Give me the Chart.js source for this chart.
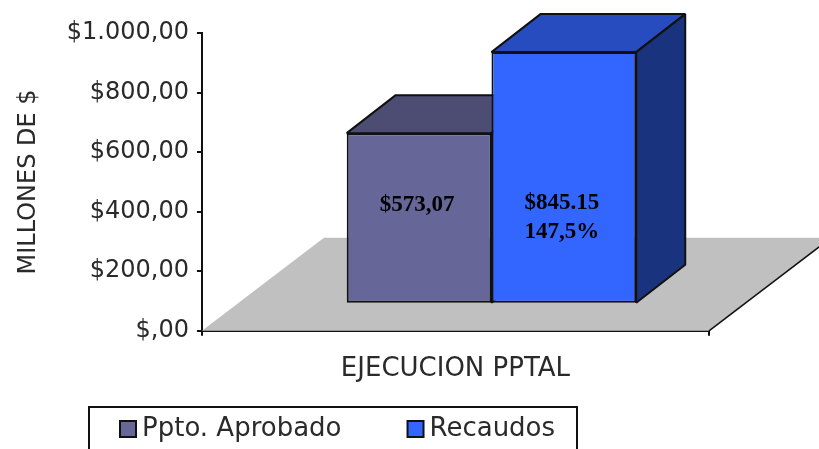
<!DOCTYPE html>
<html>
<head>
<meta charset="utf-8">
<style>
  html, body { margin: 0; padding: 0; background: #fff; overflow: hidden; }
  canvas { display: block; }
</style>
<script src="https://cdn.jsdelivr.net/npm/chart.js@4"></script>
</head>
<body>
<canvas id="myChart" width="819" height="449"></canvas>
<script>
const categories = ["EJECUCION PPTAL"];
const pptoValues = [573.07];
const recaudosValues = [845.15];
const seriesNames = ["Ppto. Aprobado", "Recaudos"];
const tickLabels = ["$,00", "$200,00", "$400,00", "$600,00", "$800,00", "$1.000,00"];
const barNotes = [["$573,07"], ["$845.15", "147,5%"]];

const textColor = "#2a2a2a";
const lineColor = "#111";
const frontColors = ["#666699", "#3366ff"];
const topColors = ["#4d4d73", "#264cbf"];
const sideColors = ["#4d4d73", "#19337f"];

// fake 3D: the bars stand 36,-27 inside a floor that is 122,-93 deep
const shift = { x: 36, y: -27 };
const floorDepth = { x: 122, y: -93 };
const barDepth = { x: 49, y: -38 };
const legendPadding = 73;

function face(ctx, pts, fill) {
  ctx.beginPath();
  pts.forEach((p, i) => (i ? ctx.lineTo(p[0], p[1]) : ctx.moveTo(p[0], p[1])));
  ctx.closePath();
  ctx.fillStyle = fill;
  ctx.fill();
  ctx.lineWidth = 2;
  ctx.strokeStyle = lineColor;
  ctx.lineJoin = "bevel";
  ctx.stroke();
}

const fake3d = {
  id: "fake3d",
  afterLayout(chart) {
    // legend box sits left of center in the original
    const legend = chart.legend;
    legend.left = 127 - legendPadding;
    legend.right = 819;
    legend.top = 416 - legendPadding;
  },
  beforeDatasetsDraw(chart) {
    const { ctx, chartArea: a } = chart;

    ctx.save();
    ctx.beginPath();
    ctx.moveTo(a.left, a.bottom);
    ctx.lineTo(a.left + floorDepth.x, a.bottom + floorDepth.y);
    ctx.lineTo(a.right + floorDepth.x, a.bottom + floorDepth.y);
    ctx.lineTo(a.right, a.bottom);
    ctx.closePath();
    ctx.fillStyle = "#c0c0c0";
    ctx.fill();
    ctx.beginPath();
    ctx.moveTo(a.right, a.bottom);
    ctx.lineTo(a.right + floorDepth.x, a.bottom + floorDepth.y);
    ctx.lineWidth = 1.5;
    ctx.strokeStyle = lineColor;
    ctx.stroke();
    ctx.restore();

    ctx.save();
    ctx.translate(shift.x, shift.y);
    chart.data.datasets.forEach((ds, i) => {
      const bar = chart.getDatasetMeta(i).data[0];
      const l = bar.x - bar.width / 2;
      const r = bar.x + bar.width / 2;
      const dx = barDepth.x;
      const dy = barDepth.y;
      face(ctx, [[l, bar.y], [l + dx, bar.y + dy], [r + dx, bar.y + dy], [r, bar.y]], topColors[i]);
      face(ctx, [[r, bar.y], [r + dx, bar.y + dy], [r + dx, bar.base + dy], [r, bar.base]], sideColors[i]);
    });
    // the native fronts are drawn inside this translate, restored below
  },
  afterDatasetsDraw(chart) {
    const { ctx } = chart;
    ctx.restore();

    ctx.save();
    ctx.font = "bold 23px 'Liberation Serif'";
    ctx.fillStyle = "#000";
    ctx.textAlign = "center";
    ctx.textBaseline = "middle";
    chart.data.datasets.forEach((ds, i) => {
      const bar = chart.getDatasetMeta(i).data[0];
      barNotes[i].forEach((line, n) => {
        ctx.fillText(line, bar.x + shift.x - 2, bar.base + shift.y - (i ? 100 : 98) + n * 29);
      });
    });
    ctx.restore();
  },
  afterDraw(chart) {
    const { ctx } = chart;
    ctx.save();
    ctx.lineWidth = 2;
    ctx.strokeStyle = lineColor;
    ctx.strokeRect(89, 407, 488, 70);
    ctx.restore();
  },
};

const datas = {
  labels: categories,
  datasets: [
    {
      label: seriesNames[0],
      data: pptoValues,
      backgroundColor: frontColors[0],
      borderColor: lineColor,
      borderWidth: 2,
      borderSkipped: false,
    },
    {
      label: seriesNames[1],
      data: recaudosValues,
      backgroundColor: frontColors[1],
      borderColor: lineColor,
      borderWidth: 2,
      borderSkipped: false,
    },
  ],
};

const configs = {
  type: "bar",
  data: datas,
  plugins: [fake3d],
  options: {
    responsive: false,
    animation: false,
    layout: { padding: { top: 33, right: 110, left: 14, bottom: 0 } },
    datasets: {
      bar: { barPercentage: 1, categoryPercentage: 0.571 },
    },
    plugins: {
      tooltip: { enabled: false },
      legend: {
        position: "bottom",
        align: "start",
        maxHeight: 46,
        labels: {
          color: textColor,
          font: { family: "DejaVu Sans", size: 26 },
          // pointStyle rect keeps a 16px swatch but pulls the text close to it
          usePointStyle: true,
          pointStyle: "rect",
          boxWidth: 2,
          boxHeight: 16,
          padding: legendPadding,
        },
      },
    },
    scales: {
      x: {
        border: { color: lineColor, width: 2 },
        grid: { drawOnChartArea: false, tickLength: 5, color: lineColor, lineWidth: 2 },
        ticks: {
          color: textColor,
          font: { family: "DejaVu Sans", size: 26 },
          padding: 18,
        },
      },
      y: {
        min: 0,
        max: 1000,
        border: { color: lineColor, width: 2 },
        grid: { drawOnChartArea: false, tickLength: 5, color: lineColor, lineWidth: 2 },
        title: {
          display: true,
          text: "MILLONES DE $",
          color: textColor,
          font: { family: "DejaVu Sans", size: 24 },
          padding: { top: 0, bottom: 16 },
        },
        ticks: {
          stepSize: 200,
          color: textColor,
          font: { family: "DejaVu Sans", size: 24 },
          padding: 8,
          callback: (value, index) => tickLabels[index],
        },
      },
    },
  },
};

document.addEventListener("DOMContentLoaded", () => {
  const ctx = document.getElementById("myChart").getContext("2d");
  new Chart(ctx, configs);
});
</script>
</body>
</html>
